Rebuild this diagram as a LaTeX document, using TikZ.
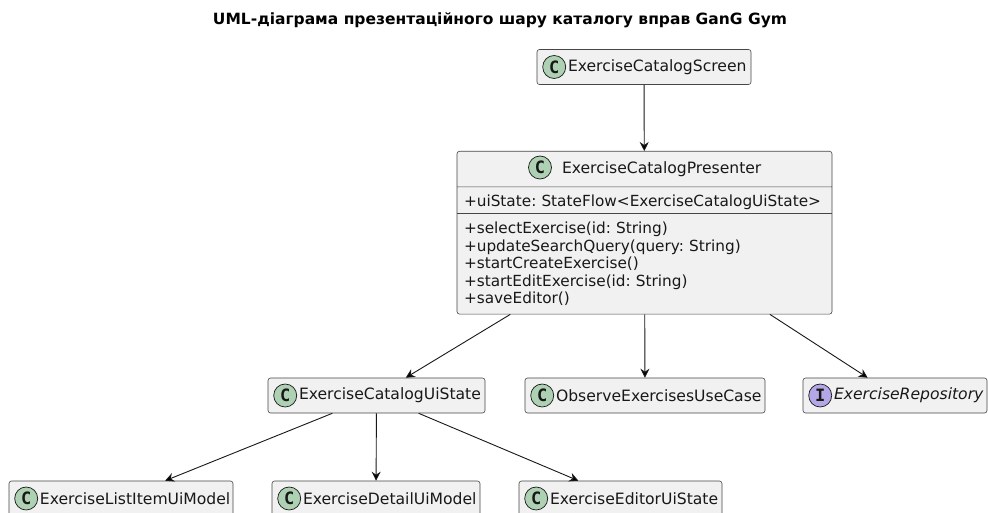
\documentclass[tikz,border=0pt]{standalone}
\usepackage{fontspec}
\setmainfont{DejaVu Sans}
\newfontfamily\spotfont{DejaVu Sans Mono}
\usetikzlibrary{arrows.meta, positioning, shapes.multipart}
\definecolor{umlInk}{HTML}{181818}
\definecolor{umlFill}{HTML}{F1F1F1}
\definecolor{umlGreen}{HTML}{ADD1B2}
\definecolor{umlPurple}{HTML}{B4A7E5}
\newcommand{\clsname}[1]{\mbox{\hspace*{24pt}#1}}
\frenchspacing
\tikzset{
  cls/.style={
    draw=umlInk!80, line width=0.6pt, rounded corners=2.5pt,
    fill=umlFill, inner xsep=7pt, inner ysep=0pt, align=left,
    font=\fontsize{15.6}{17.5}\selectfont, text=umlInk, minimum height=35
  },
  members/.style={cls, font=\fontsize{15.3}{17.5}\selectfont},
  spot/.style={
    circle, draw=umlInk, line width=0.7pt, fill=umlGreen, inner sep=0pt,
    minimum size=23, font=\spotfont\bfseries\fontsize{17}{17}\selectfont, text=umlInk
  },
  ispot/.style={spot, fill=umlPurple},
  dep/.style={-{Stealth[length=9pt, width=9pt, inset=3pt]}, line width=0.9pt, draw=umlInk},
  heading/.style={font=\bfseries\fontsize{15.5}{18}\selectfont, text=black},
}

\begin{document}
\begin{tikzpicture}[x=1pt, y=-1pt]
  \clip (0,0) rectangle (988,513);
  \fill[white] (0,0) rectangle (988,513);

  \node[heading] (title) at (500,20) {UML-діаграма презентаційного шару каталогу вправ GanG Gym};

  % presentation layer
  \node[cls, text width=200] (screen) at (644,67) {\clsname{ExerciseCatalogScreen}};
  \node[spot] at ([xshift=17.5]screen.west) {C};

  \node[members, rectangle split, rectangle split parts=3,
        text width=361, anchor=north] (pres) at (644.5,151)
  {\rule[-13pt]{0pt}{35pt}\hspace*{98pt}{\fontsize{15.6}{17.5}\selectfont ExerciseCatalogPresenter}
   \nodepart{two}\rule[-7pt]{0pt}{26pt}+uiState: StateFlow<ExerciseCatalogUiState>
   \nodepart{three}\rule{0pt}{20pt}+selectExercise(id: String)\\
   +updateSearchQuery(query: String)\\
   +startCreateExercise()\\
   +startEditExercise(id: String)\\
   +saveEditor()\rule[-10pt]{0pt}{10pt}};
  \node[spot] at (540,167.5) {C};

  % collaborators
  \node[cls, text width=203] (uistate) at (376.5,395.5) {\clsname{ExerciseCatalogUiState}};
  \node[spot] at ([xshift=17.5]uistate.west) {C};
  \node[cls, text width=226] (usecase) at (645,395.5) {\clsname{ObserveExercisesUseCase}};
  \node[spot] at ([xshift=17.5]usecase.west) {C};
  \node[cls, text width=170] (repo) at (895,395.5) {\clsname{\itshape ExerciseRepository}};
  \node[ispot] at ([xshift=17.5]repo.west) {I};

  % ui models
  \node[cls, text width=210] (listitem) at (121,498.5) {\clsname{ExerciseListItemUiModel}};
  \node[spot] at ([xshift=17.5]listitem.west) {C};
  \node[cls, text width=194] (detail) at (376,498.5) {\clsname{ExerciseDetailUiModel}};
  \node[spot] at ([xshift=17.5]detail.west) {C};
  \node[cls, text width=189] (editor) at (620.5,498.5) {\clsname{ExerciseEditorUiState}};
  \node[spot] at ([xshift=17.5]editor.west) {C};

  \draw[dep] (screen) -- (pres);
  \draw[dep] (pres) -- (uistate);
  \draw[dep] (pres) -- (usecase);
  \draw[dep] (pres) -- (repo);
  \draw[dep] (uistate) -- (listitem);
  \draw[dep] (uistate) -- (detail);
  \draw[dep] (uistate) -- (editor);
\end{tikzpicture}
\end{document}
